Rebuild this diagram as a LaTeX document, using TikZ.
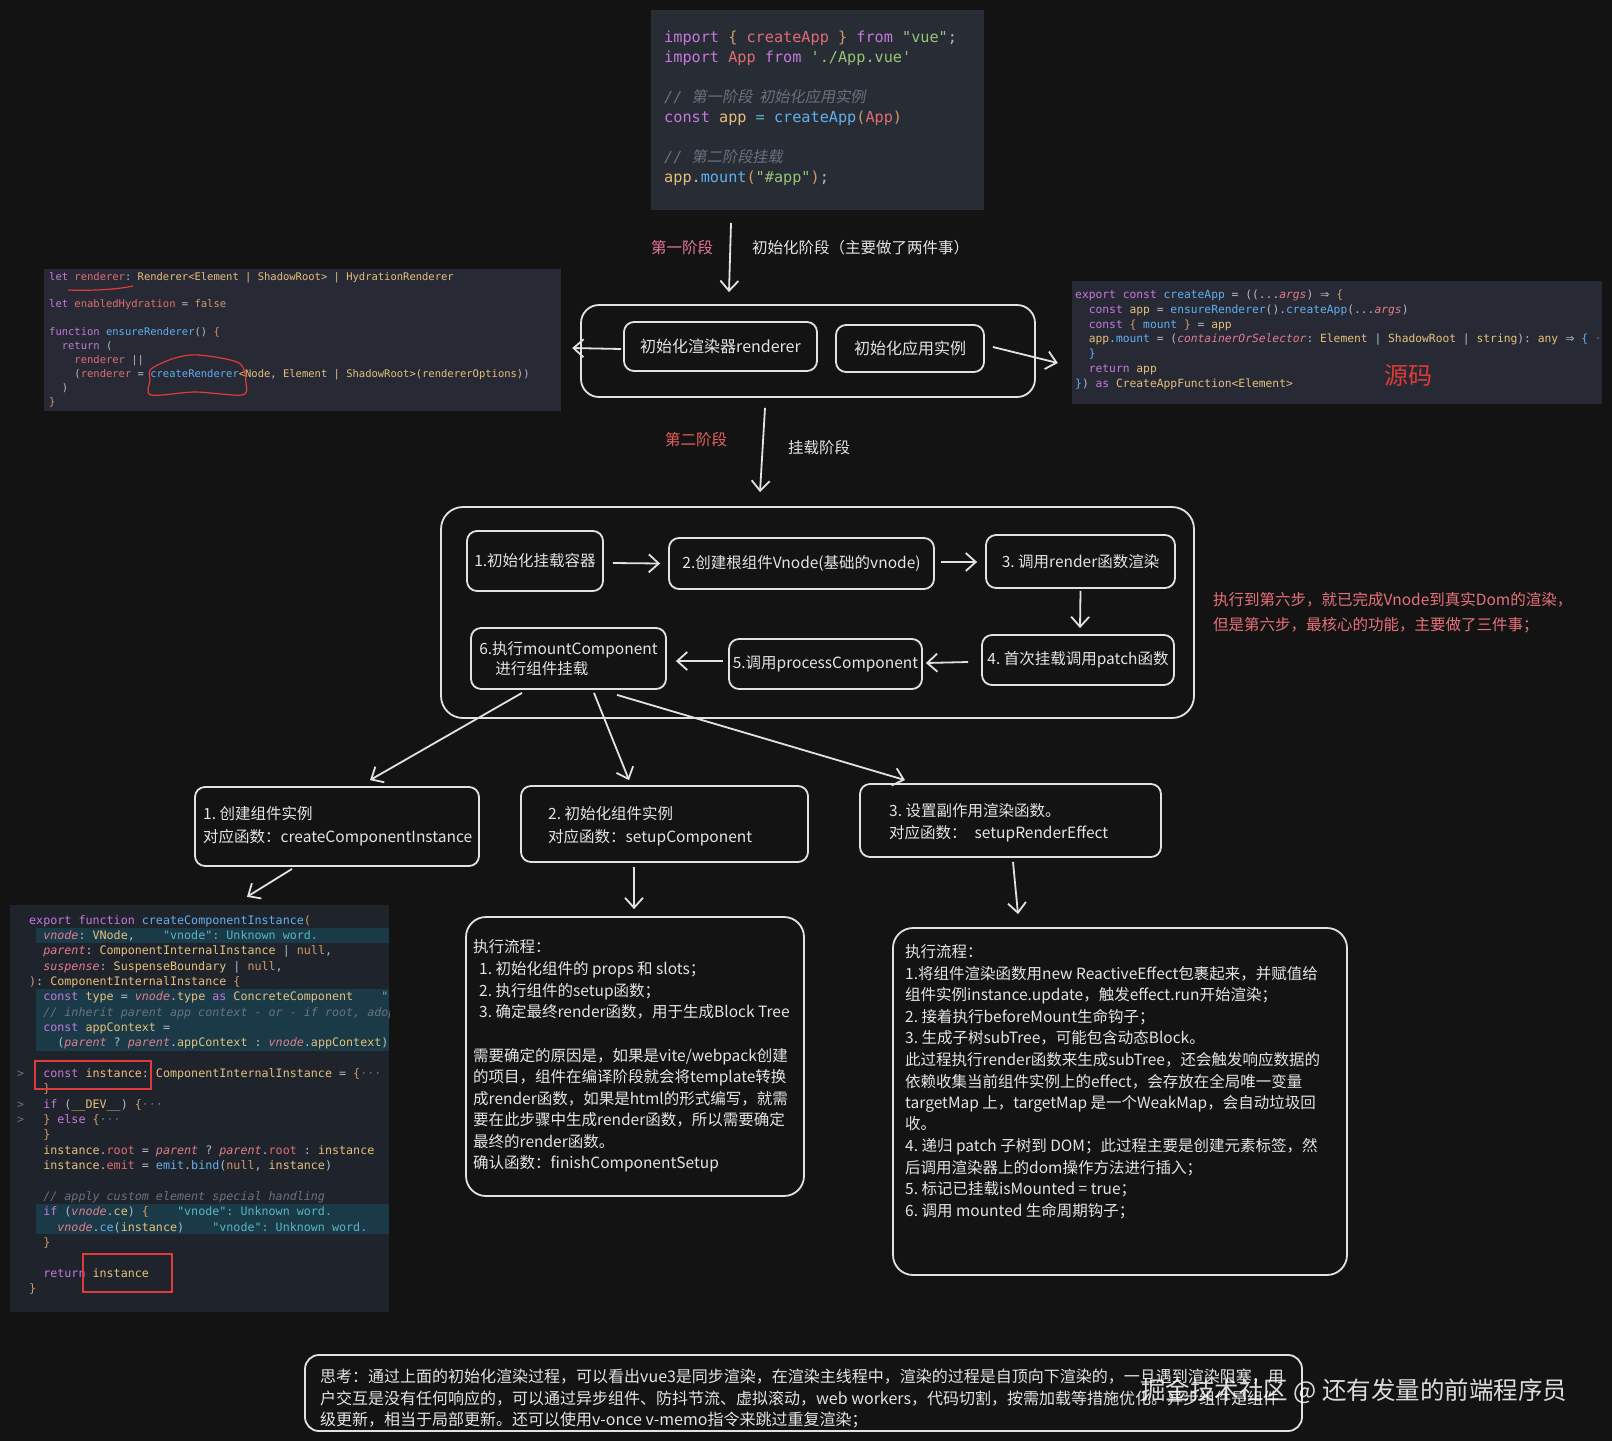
\documentclass[tikz,border=0pt]{standalone}
\usepackage{fontspec}
\setmainfont{Noto Sans CJK SC}
\setmonofont{DejaVu Sans Mono}
\newfontfamily\cjki{Noto Sans CJK SC}[FakeSlant=0.18]
\newfontfamily\djs{DejaVu Sans}
\usetikzlibrary{arrows.meta}
\frenchspacing
\definecolor{bgc}{HTML}{131313}
\definecolor{stk}{HTML}{E2E2E2}
\definecolor{fgc}{HTML}{E4E4E4}
\definecolor{codebg}{HTML}{282C34}
\definecolor{codebgb}{HTML}{272A34}
\definecolor{codebgc}{HTML}{1F242C}
\definecolor{hlc}{HTML}{1B3A48}
\definecolor{ckw}{HTML}{C678DD}
\definecolor{cvr}{HTML}{E06C75}
\definecolor{cst}{HTML}{98C379}
\definecolor{cfn}{HTML}{61AFEF}
\definecolor{cty}{HTML}{E5C07B}
\definecolor{cnu}{HTML}{D19A66}
\definecolor{ccm}{HTML}{6B717D}
\definecolor{cpl}{HTML}{B4BAC6}
\definecolor{ccy}{HTML}{56B6C2}
\definecolor{cpa}{HTML}{E27D8A}
\definecolor{redt}{HTML}{E8707A}
\definecolor{redm}{HTML}{E03A3A}
\definecolor{pinkt}{HTML}{E8749A}
\definecolor{redl}{HTML}{E8605A}
\newcommand\Ckw[1]{\textcolor{ckw}{#1}}
\newcommand\Cvr[1]{\textcolor{cvr}{#1}}
\newcommand\Cst[1]{\textcolor{cst}{#1}}
\newcommand\Cfn[1]{\textcolor{cfn}{#1}}
\newcommand\Cty[1]{\textcolor{cty}{#1}}
\newcommand\Cnu[1]{\textcolor{cnu}{#1}}
\newcommand\Ccm[1]{\textcolor{ccm}{\itshape #1}}
\newcommand\Cpa[1]{\textcolor{cpa}{\itshape #1}}
\newcommand\Cer[1]{\textcolor{ccy}{#1}}
\newcommand\ind[1]{\hspace*{\dimexpr #1\fontcharwd\font`x\relax}}
\newcommand\Arr{{\djs ⇒}}
\begin{document}
\begin{tikzpicture}[x=1pt,y=-1pt,
  bx/.style={draw=stk, line width=1.8pt, rounded corners=#1, inner sep=0pt, text=fgc, font=\fontsize{15.5}{20}\selectfont, align=center},
  bx/.default=10pt,
  cblk/.style={inner sep=0pt, draw=none},
  arr/.style={draw=stk, line width=1.8pt, -{Straight Barb[length=10pt,width=18pt,line width=1.8pt]}},
  cA/.style={anchor=base west, inner sep=0pt, text=cpl, font=\ttfamily\fontsize{15.2}{18}\selectfont},
  cB/.style={anchor=base west, inner sep=0pt, text=cpl, font=\ttfamily\fontsize{10.5}{12}\selectfont},
  cC/.style={anchor=base west, inner sep=0pt, text=cpl, font=\ttfamily\fontsize{11.3}{13}\selectfont},
  cD/.style={anchor=base west, inner sep=0pt, text=cpl, font=\ttfamily\fontsize{11.7}{14}\selectfont},
  tx/.style={anchor=base west, inner sep=0pt, text=fgc, font=\fontsize{15.5}{20}\selectfont},
  txb/.style={anchor=base west, inner sep=0pt, text=fgc, font=\fontsize{16}{20}\selectfont},
  rtx/.style={anchor=base west, inner sep=0pt, text=redt, font=\fontsize{15.5}{20}\selectfont},
  lbl/.style={inner sep=0pt, font=\fontsize{15.5}{20}\selectfont}
]
\fill[bgc] (0,0) rectangle (1612,1441);
\useasboundingbox (0,0) rectangle (1612,1441);

% ---------- code blocks ----------
\node[cblk, fill=codebg, minimum width=333pt, minimum height=200pt] (tc) at (817.5,110) {};
\node[cblk, fill=codebgb, minimum width=517pt, minimum height=142pt] (lc) at (302.5,340) {};
\node[cblk, fill=codebgb, minimum width=530pt, minimum height=123pt] (rc) at (1337,342.5) {};
\node[cblk, fill=codebgc, minimum width=379pt, minimum height=407pt] (bl) at (199.5,1108.5) {};

% top code
\node[cA] (tc1) at (664,42) {\Ckw{import} \Cnu{\{} \Cvr{createApp} \Cnu{\}} \Ckw{from} \Cst{"vue"};};
\node[cA] (tc2) at (664,62) {\Ckw{import} \Cvr{App} \Ckw{from} \Cst{'./App.vue'}};
\node[cA] (tc3) at (664,102) {\Ccm{// {\cjki 第一阶段\ \ 初始化应用实例}}};
\node[cA] (tc4) at (664,122) {\Ckw{const} \Cty{app} \Cer{=} \Cfn{createApp}\Cnu{(}\Cvr{App}\Cnu{)}};
\node[cA] (tc5) at (664,162) {\Ccm{// {\cjki 第二阶段挂载}}};
\node[cA] (tc6) at (664,182) {\Cty{app}.\Cfn{mount}\Cnu{(}\Cst{"\#app"}\Cnu{)};};

% left code
\node[cB] (lc1) at (49,280.5) {\Ckw{let} \Cvr{renderer}: \Cty{Renderer<Element | ShadowRoot> | HydrationRenderer}};
\node[cB] (lc2) at (49,307.5) {\Ckw{let} \Cvr{enabledHydration} = \Cnu{false}};
\node[cB] (lc3) at (49,335.5) {\Ckw{function} \Cfn{ensureRenderer}() \Cnu{\{}};
\node[cB] (lc4) at (49,349.5) {\ind{2}\Ckw{return} (};
\node[cB] (lc5) at (49,363.5) {\ind{4}\Cvr{renderer} ||};
\node[cB] (lc6) at (49,377.5) {\ind{4}(\Cvr{renderer} = \Cfn{createRenderer}\Cty{<Node, Element | ShadowRoot>(rendererOptions)})};
\node[cB] (lc7) at (49,391.5) {\ind{2})};
\node[cB] (lc8) at (49,405.5) {\Cnu{\}}};
\draw[redm, line width=1.2pt] (68,290) .. controls (95,291) and (120,289) .. (133,286);
\draw[redm, line width=1.2pt] plot[smooth cycle] coordinates {(151,369) (175,358) (199,355) (239,363) (246,383) (242,395) (195,392) (151,395) (150,380)};

% right code
\begin{scope}
\clip (1072,281) rectangle (1602,404);
\node[cC] (rc1) at (1075,298) {\Ckw{export} \Ckw{const} \Cfn{createApp} = ((...\Cpa{args}) \Arr\ \Cnu{\{}};
\node[cC] (rc2) at (1075,313) {\ind{2}\Ckw{const} \Cty{app} = \Cfn{ensureRenderer}().\Cfn{createApp}(...\Cpa{args})};
\node[cC] (rc3) at (1075,328) {\ind{2}\Ckw{const} \Cnu{\{} \Cfn{mount} \Cnu{\}} = \Cty{app}};
\node[cC] (rc4) at (1075,342) {\ind{2}\Cty{app}.\Cfn{mount} = (\Cpa{containerOrSelector}: \Cty{Element} | \Cty{ShadowRoot} | \Cty{string}): \Cty{any} \Arr\ \Cfn{\{} \Ccm{·}};
\node[cC] (rc5) at (1075,357) {\ind{2}\Cfn{\}}};
\node[cC] (rc6) at (1075,372) {\ind{2}\Ckw{return} \Cty{app}};
\node[cC] (rc7) at (1075,387) {\Cfn{\}}) \Ckw{as} \Cty{CreateAppFunction<Element>}};
\end{scope}
\node[inner sep=0pt, font=\fontsize{24}{24}\selectfont, text=redm] (ym) at (1408,376) {源码};

% bottom-left code
\begin{scope}
\clip (10,905) rectangle (389,1312);
\fill[hlc] (36,927.7) rectangle (389,943.0);
\fill[hlc] (36,989.1) rectangle (389,1050.5);
\fill[hlc] (36,1203.7) rectangle (389,1234.4);
\node[cD] (bl0) at (29,924) {\Ckw{export} \Ckw{function} \Cfn{createComponentInstance}\Cnu{(}};
\node[cD] (bl1) at (29,939.35) {\ind{2}\Cpa{vnode}: \Cty{VNode},\ind{4}\Cer{"vnode": Unknown word.}};
\node[cD] (bl2) at (29,954.7) {\ind{2}\Cpa{parent}: \Cty{ComponentInternalInstance} | \Cnu{null},};
\node[cD] (bl3) at (29,970.05) {\ind{2}\Cpa{suspense}: \Cty{SuspenseBoundary} | \Cnu{null},};
\node[cD] (bl4) at (29,985.4) {\Cnu{)}: \Cty{ComponentInternalInstance} \Cnu{\{}};
\node[cD] (bl5) at (29,1000.75) {\ind{2}\Ckw{const} \Cty{type} = \Cpa{vnode}.\Cty{type} \Ckw{as} \Cty{ConcreteComponent}\ind{4}\Cer{"}};
\node[cD] (bl6) at (29,1016.1) {\ind{2}\Ccm{// inherit parent app context - or - if root, adopt}};
\node[cD] (bl7) at (29,1031.45) {\ind{2}\Ckw{const} \Cty{appContext} =};
\node[cD] (bl8) at (29,1046.8) {\ind{4}(\Cpa{parent} ? \Cpa{parent}.\Cty{appContext} : \Cpa{vnode}.\Cty{appContext})};
\node[cD] (bl10) at (29,1077.5) {\ind{2}\Ckw{const} \Cty{instance}: \Cty{ComponentInternalInstance} = \Cnu{\{}\Ccm{···}};
\node[cD] (bl11) at (29,1092.85) {\ind{2}\Cnu{\}}};
\node[cD] (bl12) at (29,1108.2) {\ind{2}\Ckw{if} (\Cty{\_\_DEV\_\_}) \Cnu{\{}\Ccm{···}};
\node[cD] (bl13) at (29,1123.55) {\ind{2}\Cnu{\}} \Ckw{else} \Cnu{\{}\Ccm{···}};
\node[cD] (bl14) at (29,1138.9) {\ind{2}\Cnu{\}}};
\node[cD] (bl15) at (29,1154.25) {\ind{2}\Cty{instance}.\Cvr{root} = \Cpa{parent} ? \Cpa{parent}.\Cvr{root} : \Cty{instance}};
\node[cD] (bl16) at (29,1169.6) {\ind{2}\Cty{instance}.\Cvr{emit} = \Cfn{emit}.\Cfn{bind}(\Cnu{null}, \Cty{instance})};
\node[cD] (bl18) at (29,1200.3) {\ind{2}\Ccm{// apply custom element special handling}};
\node[cD] (bl19) at (29,1215.65) {\ind{2}\Ckw{if} (\Cpa{vnode}.\Cty{ce}) \Cnu{\{}\ind{4}\Cer{"vnode": Unknown word.}};
\node[cD] (bl20) at (29,1231) {\ind{4}\Cpa{vnode}.\Cfn{ce}(\Cty{instance})\ind{4}\Cer{"vnode": Unknown word.}};
\node[cD] (bl21) at (29,1246.35) {\ind{2}\Cnu{\}}};
\node[cD] (bl23) at (29,1277.05) {\ind{2}\Ckw{return} \Cty{instance}};
\node[cD] (bl24) at (29,1292.4) {\Cnu{\}}};
\node[cD, text=ccm] (fd1) at (17,1077.5) {>};
\node[cD, text=ccm] (fd2) at (17,1108.2) {>};
\node[cD, text=ccm] (fd3) at (17,1123.55) {>};
\end{scope}
\draw[redm, line width=1.3pt] (35,1061) rectangle (151,1089);
\draw[redm, line width=1.3pt] (83,1254) rectangle (172,1292);

% ---------- stage 1 ----------
\node[lbl, text=pinkt] (p1) at (682,248) {第一阶段};
\node[lbl, text=fgc, anchor=west] (p1d) at (752,248) {初始化阶段（主要做了两件事）};
\node[bx=18pt, minimum width=454pt, minimum height=92pt] (s1) at (808,351) {};
\node[bx, minimum width=193pt, minimum height=49pt, font=\fontsize{16}{20}\selectfont] (ir) at (720.5,346.5) {初始化渲染器renderer};
\node[bx, minimum width=148pt, minimum height=47pt, font=\fontsize{16}{20}\selectfont] (ia) at (910,348.5) {初始化应用实例};
\draw[arr] ([xshift=-86.5pt,yshift=-13pt]tc.south) -- ([xshift=-79pt,yshift=12pt]s1.north);
\draw[arr] ([xshift=-2pt,yshift=-2.5pt]ir.west) -- ([xshift=11pt,yshift=-8pt]lc.east);
\draw[arr] ([xshift=8pt,yshift=1.5pt]ia.east) -- ([xshift=-14pt,yshift=-20.5pt]rc.west);

\node[lbl, text=redl] (p2) at (696,440) {第二阶段};
\node[lbl, text=fgc] (p2d) at (819,448) {挂载阶段};

% ---------- stage 2 ----------
\node[bx=22pt, minimum width=753pt, minimum height=211pt] (s2) at (817.5,612.5) {};
\draw[arr] ([xshift=-43pt,yshift=-10pt]s1.south) -- ([xshift=-57.5pt,yshift=14pt]s2.north);
\node[bx, minimum width=136pt, minimum height=60pt] (n1) at (535,561) {1.初始化挂载容器};
\node[bx, minimum width=265pt, minimum height=51pt] (n2) at (801.5,563.5) {2.创建根组件Vnode(基础的vnode)};
\node[bx, minimum width=189pt, minimum height=53pt] (n3) at (1080.5,561.5) {3. 调用render函数渲染};
\node[bx, minimum width=192pt, minimum height=50pt] (n4) at (1078,660) {4. 首次挂载调用patch函数};
\node[bx, minimum width=193pt, minimum height=50pt] (n5) at (825.5,664) {5.调用processComponent};
\node[bx, minimum width=195pt, minimum height=61pt, align=left] (n6) at (568.5,658.5) {6.执行mountComponent\\\hspace*{16pt}进行组件挂载};
\draw[arr] ([xshift=9pt,yshift=-2pt]n1.east) -- ([xshift=-8pt]n2.west);
\draw[arr] ([xshift=6pt,yshift=1.5pt]n2.east) -- ([xshift=-8pt,yshift=-0.5pt]n3.west);
\draw[arr] ([yshift=-2pt]n3.south) -- ([xshift=2pt,yshift=6pt]n4.north);
\draw[arr] ([xshift=-13pt,yshift=-2pt]n4.west) -- ([xshift=3pt,yshift=1pt]n5.east);
\draw[arr] ([xshift=-5pt,yshift=3pt]n5.west) -- ([xshift=9pt,yshift=-2.5pt]n6.east);

\node[rtx] (note1) at (1213,605.5) {执行到第六步，就已完成Vnode到真实Dom的渲染，};
\node[rtx] (note2) at (1213,630.5) {但是第六步，最核心的功能，主要做了三件事；};

% ---------- three sub steps ----------
\node[bx, minimum width=284pt, minimum height=79pt] (A) at (337,826.5) {};
\node[bx, minimum width=287pt, minimum height=76pt] (B) at (664.5,824) {};
\node[bx, minimum width=301pt, minimum height=73pt] (C) at (1010.5,820.5) {};
\node[tx] (A1) at (203,819.5) {1. 创建组件实例};
\node[tx] (A2) at (203,842.5) {对应函数：createComponentInstance};
\node[tx] (B1) at (548,819.5) {2. 初始化组件实例};
\node[tx] (B2) at (548,842.5) {对应函数：setupComponent};
\node[tx] (C1) at (889,816.5) {3. 设置副作用渲染函数。};
\node[tx] (C2) at (889,838.5) {对应函数：\hspace*{8pt}setupRenderEffect};
\draw[arr] ([xshift=-46.5pt,yshift=-3pt]n6.south) -- ([xshift=33pt,yshift=6pt]A.north);
\draw[arr] ([xshift=25.5pt,yshift=-3pt]n6.south) -- ([xshift=-35.5pt,yshift=5pt]B.north);
\draw[arr] ([xshift=48.5pt,yshift=-5pt]n6.south) -- ([xshift=-105.5pt,yshift=3pt]C.north);

% ---------- detail boxes ----------
\node[bx=20pt, minimum width=338pt, minimum height=279pt] (mt) at (635,1056.5) {};
\node[bx=20pt, minimum width=454pt, minimum height=347pt] (rt) at (1120,1101.5) {};
\draw[arr] ([xshift=-45pt,yshift=-2pt]A.south) -- ([xshift=47.5pt,yshift=8pt]bl.north);
\draw[arr] ([xshift=-30.5pt,yshift=-4pt]B.south) -- ([xshift=-1pt,yshift=7pt]mt.north);
\draw[arr] ([xshift=2.5pt,yshift=-4pt]C.south) -- ([xshift=-102pt,yshift=13pt]rt.north);

\node[tx] (m1) at (473,952.5) {执行流程：};
\node[tx] (m2) at (479,974.5) {1. 初始化组件的 props 和 slots；};
\node[tx] (m3) at (479,996.5) {2. 执行组件的setup函数；};
\node[tx] (m4) at (479,1017.5) {3. 确定最终render函数，用于生成Block Tree};
\node[tx] (m5) at (473,1061.5) {需要确定的原因是，如果是vite/webpack创建};
\node[tx] (m6) at (473,1082.5) {的项目，组件在编译阶段就会将template转换};
\node[tx] (m7) at (473,1104.5) {成render函数，如果是html的形式编写，就需};
\node[tx] (m8) at (473,1125.5) {要在此步骤中生成render函数，所以需要确定};
\node[tx] (m9) at (473,1147.5) {最终的render函数。};
\node[tx] (m10) at (473,1168.5) {确认函数：finishComponentSetup};

\node[tx] (q1) at (905,957.5) {执行流程：};
\node[tx] (q2) at (905,979.5) {1.将组件渲染函数用new ReactiveEffect包裹起来，并赋值给};
\node[tx] (q3) at (905,1000.5) {组件实例instance.update，触发effect.run开始渲染；};
\node[tx] (q4) at (905,1022.5) {2. 接着执行beforeMount生命钩子；};
\node[tx] (q5) at (905,1043.5) {3. 生成子树subTree，可能包含动态Block。};
\node[tx] (q6) at (905,1065.5) {此过程执行render函数来生成subTree，还会触发响应数据的};
\node[tx] (q7) at (905,1087.5) {依赖收集当前组件实例上的effect，会存放在全局唯一变量};
\node[tx] (q8) at (905,1108.5) {targetMap 上，targetMap 是一个WeakMap，会自动垃圾回};
\node[tx] (q9) at (905,1129.5) {收。};
\node[tx] (q10) at (905,1151.5) {4. 递归 patch 子树到 DOM；此过程主要是创建元素标签，然};
\node[tx] (q11) at (905,1173.5) {后调用渲染器上的dom操作方法进行插入；};
\node[tx] (q12) at (905,1194.5) {5. 标记已挂载isMounted = true；};
\node[tx] (q13) at (905,1216.5) {6. 调用 mounted 生命周期钩子；};

% ---------- bottom note ----------
\node[bx=14pt, minimum width=997pt, minimum height=76pt] (bb) at (803.5,1393) {};
\node[txb] (b1) at (320,1382.5) {思考：通过上面的初始化渲染过程，可以看出vue3是同步渲染，在渲染主线程中，渲染的过程是自顶向下渲染的，一旦遇到渲染阻塞，用};
\node[txb] (b2) at (320,1404) {户交互是没有任何响应的，可以通过异步组件、防抖节流、虚拟滚动，web workers，代码切割，按需加载等措施优化。异步组件是组件};
\node[txb] (b3) at (320,1425.5) {级更新，相当于局部更新。还可以使用v-once v-memo指令来跳过重复渲染；};

\node[anchor=west, inner sep=0pt, text=white, text opacity=0.85, font=\fontsize{24.5}{26}\selectfont] (wm) at (1141,1391) {掘金技术社区 @ 还有发量的前端程序员};
\end{tikzpicture}
\end{document}
